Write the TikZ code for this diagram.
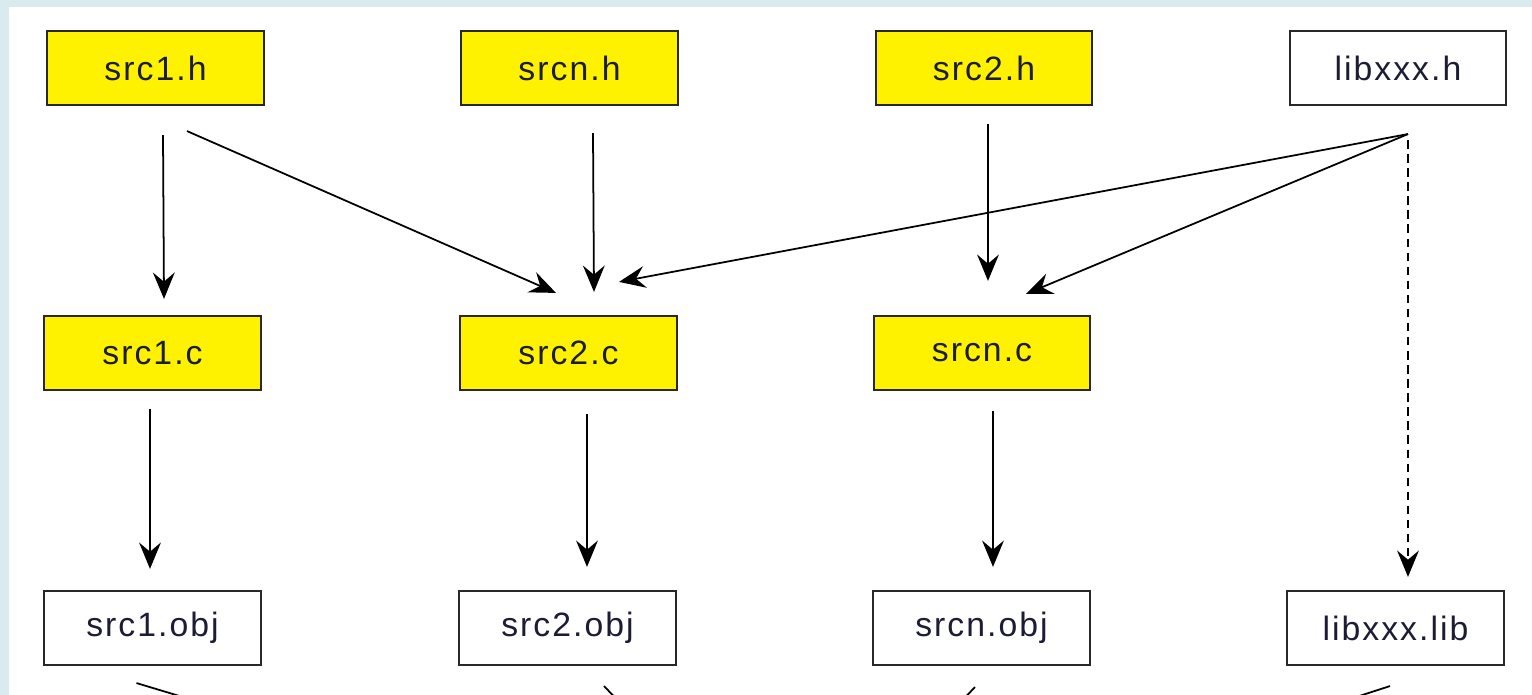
\documentclass[tikz,border=0pt]{standalone}
\usepackage{fontspec}
\setmainfont{Liberation Sans}[LetterSpace=6]
\usepackage{tikz}
\usetikzlibrary{arrows.meta, positioning, calc}
\usepackage{xcolor}
\definecolor{srcyellow}{RGB}{255,242,0}
\definecolor{frameblue}{RGB}{217,235,239}
\definecolor{boxline}{RGB}{40,40,40}
\definecolor{labelink}{RGB}{28,28,52}

\begin{document}
\begin{tikzpicture}[
  x=0.01cm, y=-0.01cm,
  >={Stealth[length=7.5pt, width=6.2pt, inset=2.6pt]},
  every node/.style={font=\fontsize{9.6}{11}\selectfont, text=labelink},
  filebox/.style={draw=boxline, line width=0.6pt, rectangle, minimum width=2.16cm, minimum height=0.74cm, inner sep=0pt, fill=white},
  srcbox/.style={filebox, fill=srcyellow},
  dep/.style={->, line width=0.5pt},
]
\useasboundingbox (0,0) rectangle (1532,695);
\clip (0,0) rectangle (1532,695);
% window frame
\fill[frameblue] (0,0) rectangle (1532,695);
\fill[white] (9,7) rectangle (1532,695);

% Headers
\node[srcbox]  (src1h)   at (155.5,68) {src1.h};
\node[srcbox]  (srcnh)   at (569.5,68) {srcn.h};
\node[srcbox]  (src2h)   at (984,68)   {src2.h};
\node[filebox] (libxxxh) at (1398,68)  {libxxx.h};

% Sources
\node[srcbox] (src1c) at (152.5,353) {src1.c};
\node[srcbox] (src2c) at (568.5,353) {src2.c};
\node[srcbox] (srcnc) at (982,353)   {srcn.c};

% Objects and library
\node[filebox] (src1obj)   at (152.5,628)  {src1.obj};
\node[filebox] (src2obj)   at (567.5,628)  {src2.obj};
\node[filebox] (srcnobj)   at (981.5,628)  {srcn.obj};
\node[filebox] (libxxxlib) at (1395.5,628) {libxxx.lib};

% link target further down
\coordinate (linkout) at (790,880);

% --- includes ---
\draw[dep] ($(src1h.south)+(7.5,29)$)   -- ($(src1c.north)+(11.5,-16)$);
\draw[dep] ($(src1h.south)+(31.5,25)$)  -- ($(src2c.north)+(-12.5,-22)$);
\draw[dep] ($(srcnh.south)+(23.5,27)$)  -- ($(src2c.north)+(25.5,-23)$);
\draw[dep] ($(src2h.south)+(4,18)$)     -- ($(srcnc.north)+(6,-34)$);
\draw[dep] ($(libxxxh.south)+(10,28)$)  -- ($(src2c.north)+(50.5,-33)$);
\draw[dep] ($(libxxxh.south)+(10,28)$)  -- ($(srcnc.north)+(44,-21)$);
\draw[dep, dash pattern=on 2.4pt off 1.6pt] ($(libxxxh.south)+(10,34)$) -- ($(libxxxlib.north)+(12.5,-13)$);

% --- compile ---
\draw[dep] ($(src1c.south)+(-2.5,18)$) -- ($(src1obj.north)+(-2.5,-21)$);
\draw[dep] ($(src2c.south)+(18.5,23)$) -- ($(src2obj.north)+(19.5,-23)$);
\draw[dep] ($(srcnc.south)+(11,20)$)   -- ($(srcnobj.north)+(11.5,-23)$);

% --- link ---
\draw[dep] ($(src1obj.south)+(-16,17)$)    -- (linkout);
\draw[dep] ($(src2obj.south)+(36.5,20)$)   -- (linkout);
\draw[dep] ($(srcnobj.south)+(-6.5,21)$)   -- (linkout);
\draw[dep] ($(libxxxlib.south)+(-5.5,20)$) -- (linkout);
\end{tikzpicture}
\end{document}
